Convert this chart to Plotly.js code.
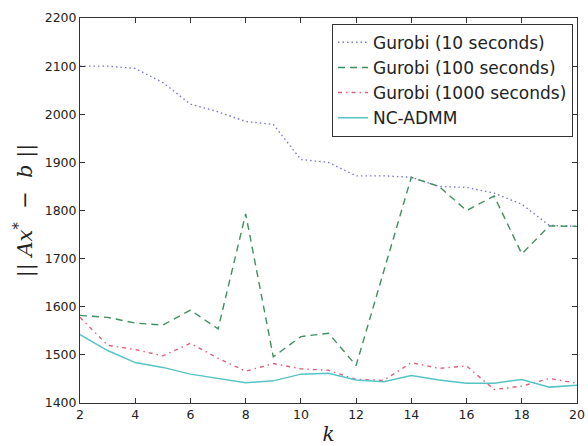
<!DOCTYPE html>
<html>
<head>
<meta charset="utf-8">
<script src="https://cdn.plot.ly/plotly-3.0.1.min.js"></script>
<style>html,body{margin:0;padding:0;background:#fff;}#chart{width:588px;height:446px;}</style>
</head>
<body>
<div id="chart"></div>
<script>
const k = [2,3,4,5,6,7,8,9,10,11,12,13,14,15,16,17,18,19,20];
const gurobi10 = [2100,2100,2095,2066,2021,2005,1985,1979,1906,1900,1872,1872,1869,1850,1848,1836,1813,1769,1767];
const gurobi100 = [1582,1578,1566,1562,1593,1554,1793,1496,1538,1545,1478,1672,1869,1850,1800,1830,1710,1768,1767];
const gurobi1000 = [1578,1520,1511,1498,1524,1493,1466,1482,1471,1468,1449,1447,1484,1472,1477,1428,1435,1451,1441];
const ncadmm = [1542,1509,1484,1474,1460,1451,1442,1446,1460,1462,1448,1444,1457,1448,1441,1441,1449,1433,1437];
const seriesNames = ['Gurobi (10 seconds)','Gurobi (100 seconds)','Gurobi (1000 seconds)','NC-ADMM'];
const xTicks = [2,4,6,8,10,12,14,16,18,20];
const yTicks = [1400,1500,1600,1700,1800,1900,2000,2100,2200];

const traces = [
  {x:k, y:gurobi10, name:seriesNames[0], mode:'lines', line:{color:'#7878cc', width:1.4, dash:'1.5px,3px'}},
  {x:k, y:gurobi100, name:seriesNames[1], mode:'lines', line:{color:'#3f8f5f', width:1.4, dash:'7px,5px'}},
  {x:k, y:gurobi1000, name:seriesNames[2], mode:'lines', line:{color:'#e0607a', width:1.4, dash:'4px,4px,1.5px,4px'}},
  {x:k, y:ncadmm, name:seriesNames[3], mode:'lines', line:{color:'#55c4c8', width:1.5}}
];

const axisCommon = {
  showline:true, linecolor:'#333', linewidth:1, mirror:'ticks',
  ticks:'inside', ticklen:5, tickwidth:1, tickcolor:'#333',
  showgrid:false, zeroline:false,
  tickfont:{family:'DejaVu Sans', size:12.5, color:'#222'}
};

const layout = {
  width:588, height:446,
  margin:{l:80, r:11, t:18, b:43},
  paper_bgcolor:'#fff', plot_bgcolor:'#fff',
  showlegend:true,
  legend:{x:0.992, y:0.985, xanchor:'right', yanchor:'top', bordercolor:'#333', borderwidth:1,
          bgcolor:'#fff', font:{family:'DejaVu Sans', size:17, color:'#222'}, tracegroupgap:0},
  xaxis:Object.assign({}, axisCommon, {range:[2,20], tickvals:xTicks, ticktext:xTicks.map(String),
          title:{text:'<i>k</i>', font:{family:'DejaVu Serif', size:20, color:'#222'}, standoff:12}}),
  yaxis:Object.assign({}, axisCommon, {range:[1400,2200], tickvals:yTicks, ticktext:yTicks.map(String),
          title:{text:'|| <i>Ax</i><sup>*</sup>  −  <i>b</i> ||', font:{family:'DejaVu Serif', size:21, color:'#222'}, standoff:6}})
};

Plotly.newPlot('chart', traces, layout, {displayModeBar:false, staticPlot:true});
</script>
</body>
</html>
